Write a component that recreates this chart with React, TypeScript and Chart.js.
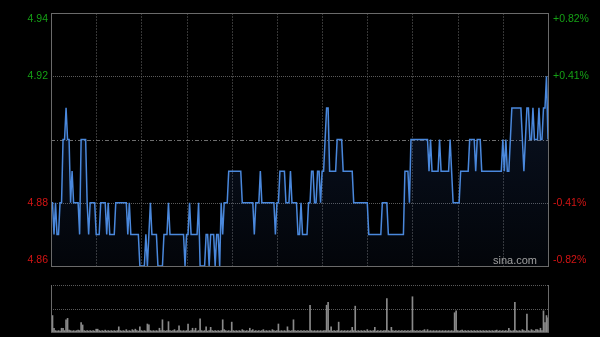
import React, { useEffect, useRef } from 'react';
import { Chart, registerables } from 'chart.js';
Chart.register(...registerables);

// Intraday prices, one per minute (HK session, 330 minutes)
const prices: number[] = [
  4.88,4.88,4.87,4.88,4.87,4.87,4.88,4.88,4.90,4.90,
  4.91,4.90,4.90,4.88,4.89,4.88,4.88,4.88,4.88,4.87,
  4.90,4.90,4.90,4.90,4.88,4.87,4.88,4.88,4.88,4.88,
  4.87,4.87,4.87,4.88,4.88,4.88,4.88,4.87,4.88,4.87,
  4.87,4.87,4.87,4.88,4.88,4.88,4.88,4.88,4.88,4.88,
  4.88,4.87,4.88,4.87,4.87,4.87,4.87,4.87,4.87,4.86,
  4.86,4.86,4.86,4.87,4.86,4.87,4.88,4.87,4.87,4.87,
  4.87,4.86,4.86,4.86,4.86,4.87,4.87,4.87,4.88,4.87,
  4.87,4.87,4.87,4.87,4.87,4.87,4.87,4.87,4.87,4.86,
  4.87,4.87,4.88,4.87,4.87,4.87,4.87,4.87,4.88,4.86,
  4.86,4.86,4.86,4.87,4.87,4.86,4.87,4.87,4.87,4.86,
  4.87,4.87,4.86,4.88,4.87,4.88,4.88,4.88,4.89,4.89,
  4.89,4.89,4.89,4.89,4.89,4.89,4.89,4.88,4.88,4.88,
  4.88,4.88,4.88,4.88,4.88,4.87,4.88,4.88,4.88,4.89,
  4.88,4.88,4.88,4.88,4.88,4.88,4.88,4.88,4.88,4.87,
  4.88,4.88,4.89,4.89,4.89,4.89,4.88,4.88,4.88,4.89,
  4.88,4.88,4.88,4.88,4.87,4.87,4.88,4.87,4.87,4.87,
  4.87,4.88,4.88,4.89,4.89,4.88,4.88,4.89,4.89,4.88,
  4.89,4.89,4.90,4.91,4.91,4.89,4.89,4.89,4.89,4.89,
  4.90,4.90,4.90,4.90,4.89,4.89,4.89,4.89,4.89,4.89,
  4.89,4.88,4.88,4.88,4.88,4.88,4.88,4.88,4.88,4.88,
  4.88,4.87,4.87,4.87,4.87,4.87,4.87,4.87,4.87,4.87,
  4.88,4.88,4.88,4.88,4.87,4.87,4.87,4.87,4.87,4.87,
  4.87,4.87,4.87,4.87,4.87,4.89,4.89,4.89,4.88,4.90,
  4.90,4.90,4.90,4.90,4.90,4.90,4.90,4.90,4.90,4.90,
  4.90,4.89,4.90,4.89,4.89,4.89,4.89,4.89,4.90,4.89,
  4.89,4.89,4.89,4.89,4.89,4.90,4.89,4.88,4.88,4.88,
  4.88,4.88,4.89,4.89,4.89,4.89,4.89,4.89,4.90,4.90,
  4.90,4.90,4.89,4.90,4.90,4.90,4.89,4.89,4.89,4.89,
  4.89,4.89,4.89,4.89,4.89,4.89,4.89,4.89,4.89,4.89,
  4.90,4.89,4.90,4.89,4.89,4.90,4.91,4.91,4.91,4.91,
  4.91,4.91,4.91,4.90,4.89,4.90,4.91,4.91,4.90,4.90,
  4.91,4.90,4.90,4.90,4.91,4.90,4.90,4.91,4.91,4.92,
  4.90,
];

// Per-minute volume (relative units, panel top = 100)
const volumes: number[] = [
  26,35,8,3,2,3,2,8,8,3,
  26,29,4,3,2,3,2,3,4,3,
  20,15,3,2,3,2,3,2,3,2,
  6,6,3,2,3,2,4,2,3,2,
  3,2,3,2,3,11,3,2,3,2,
  5,2,3,2,5,3,6,3,2,11,
  3,2,3,2,17,15,3,2,3,2,
  3,2,8,3,26,3,2,3,22,3,
  2,3,5,2,3,13,3,2,3,2,
  3,17,2,3,8,3,8,2,3,28,
  3,2,3,11,2,3,10,3,2,3,
  2,3,2,3,26,5,3,2,3,2,
  21,3,2,3,2,3,2,5,3,2,
  3,2,8,3,5,2,3,2,3,2,
  3,5,2,3,2,3,2,5,3,2,
  3,17,2,3,2,3,2,11,3,2,
  3,26,3,2,3,2,3,2,3,2,
  3,2,57,3,2,3,2,3,2,3,
  2,3,3,57,63,3,11,2,3,2,
  3,21,2,3,2,3,2,3,2,3,
  10,3,55,2,3,2,3,2,3,2,
  5,2,3,2,3,10,2,3,2,3,
  2,3,3,71,3,2,10,3,2,3,
  2,3,2,3,2,3,2,3,2,3,
  75,3,2,3,2,3,2,3,5,2,
  5,2,3,2,3,2,3,2,3,2,
  3,2,3,2,3,2,3,2,41,45,
  3,2,3,4,2,3,2,3,2,3,
  2,3,2,3,2,3,2,3,2,3,
  2,3,2,3,2,3,4,2,3,2,
  3,2,3,2,8,3,2,3,63,3,
  2,3,2,5,3,2,38,3,2,5,
  3,2,5,5,3,8,3,45,20,35,
  30,
];

const priceTicks = [4.94, 4.92, 4.90, 4.88, 4.86];
const priceLabels = ['4.94', '4.92', '', '4.88', '4.86'];
const pctLabels = ['+0.82%', '+0.41%', '', '-0.41%', '-0.82%'];
const prevClose = 4.90;
const gridMinutes = [30, 60, 90, 120, 150, 180, 210, 240, 270, 300];
const totalMinutes = 330;
const volumeMax = 100;

const GREEN = '#15a015';
const RED = '#d41414';
const FONT = '10.5px "Liberation Sans", Arial, sans-serif';

function hLine(ctx: CanvasRenderingContext2D, x1: number, x2: number, y: number, dash: number[], color: string) {
  ctx.save();
  ctx.strokeStyle = color;
  ctx.lineWidth = 1;
  ctx.setLineDash(dash);
  ctx.beginPath();
  ctx.moveTo(x1, y);
  ctx.lineTo(x2, y);
  ctx.stroke();
  ctx.restore();
}
function vLine(ctx: CanvasRenderingContext2D, x: number, y1: number, y2: number, dash: number[], color: string) {
  ctx.save();
  ctx.strokeStyle = color;
  ctx.lineWidth = 1;
  ctx.setLineDash(dash);
  ctx.beginPath();
  ctx.moveTo(x, y1);
  ctx.lineTo(x, y2);
  ctx.stroke();
  ctx.restore();
}

const mainDecor = {
  id: 'mainDecor',
  beforeDatasetsDraw(chart: any) {
    const { ctx, chartArea, scales } = chart;
    const { left, right, top, bottom } = chartArea;
    gridMinutes.forEach((m) => {
      const px = Math.round(scales.x.getPixelForValue(m)) + 0.5;
      vLine(ctx, px, top, bottom, [2, 1], '#363636');
    });
    priceTicks.forEach((v, i) => {
      if (i === 0 || i === priceTicks.length - 1) return;
      const py = Math.round(scales.y.getPixelForValue(v)) + 0.5;
      if (v === prevClose) hLine(ctx, left, right, py, [4, 2, 1, 2], '#6e6e6e');
      else hLine(ctx, left, right, py, [1, 1], '#5a5a5a');
    });
  },
  afterDraw(chart: any) {
    const { ctx, chartArea, scales } = chart;
    const { left, right, top, bottom } = chartArea;
    ctx.save();
    ctx.strokeStyle = '#6a6a6a';
    ctx.lineWidth = 1;
    ctx.strokeRect(left + 0.5, top + 0.5, right - left, bottom - top);
    ctx.font = FONT;
    ctx.textBaseline = 'middle';
    priceTicks.forEach((v, i) => {
      let py = scales.y.getPixelForValue(v);
      if (i === 0) py += 6;
      if (i === priceTicks.length - 1) py -= 6;
      const color = v > prevClose ? GREEN : RED;
      ctx.fillStyle = color;
      if (priceLabels[i]) {
        ctx.textAlign = 'right';
        ctx.fillText(priceLabels[i], left - 3, py);
      }
      if (pctLabels[i]) {
        ctx.textAlign = 'left';
        ctx.fillText(pctLabels[i], right + 5, py);
      }
    });
    ctx.fillStyle = '#a0a0a0';
    ctx.textAlign = 'right';
    ctx.font = '11px "Liberation Sans", Arial, sans-serif';
    ctx.fillText('sina.com', right - 11, bottom - 5);
    ctx.restore();
  },
};

const volDecor = {
  id: 'volDecor',
  beforeDatasetsDraw(chart: any) {
    const { ctx, chartArea, scales } = chart;
    const { left, right, top, bottom } = chartArea;
    hLine(ctx, left, right, top + 0.5, [1, 1], '#5a5a5a');
    const mid = Math.round(scales.y.getPixelForValue(volumeMax / 2)) + 0.5;
    hLine(ctx, left, right, mid, [1, 1], '#5a5a5a');
  },
  afterDraw(chart: any) {
    const { ctx, chartArea } = chart;
    const { left, right, top, bottom } = chartArea;
    vLine(ctx, left + 0.5, top, bottom, [], '#6a6a6a');
    vLine(ctx, right + 0.5, top, bottom, [], '#6a6a6a');
    hLine(ctx, left, right + 1, bottom + 0.5, [], '#555555');
  },
};

export default function App() {
  const mainRef = useRef<HTMLCanvasElement>(null);
  const volRef = useRef<HTMLCanvasElement>(null);

  useEffect(() => {
    const priceData = prices.map((p, i) => ({ x: i, y: p }));
    const volData = volumes.map((v, i) => ({ x: i, y: v }));

    const main = new Chart(mainRef.current!, {
      type: 'line',
      data: {
        datasets: [
          {
            data: priceData,
            borderColor: '#4a88dc',
            borderWidth: 1.5,
            pointRadius: 0,
            tension: 0,
            fill: 'start',
            backgroundColor: (ctx: any) => {
              const area = ctx.chart.chartArea;
              if (!area) return 'rgba(40,80,150,0.12)';
              const g = ctx.chart.ctx.createLinearGradient(0, area.top, 0, area.bottom);
              g.addColorStop(0, 'rgba(45,85,160,0.28)');
              g.addColorStop(1, 'rgba(45,85,160,0.06)');
              return g;
            },
          },
        ],
      },
      options: {
        animation: false,
        responsive: true,
        maintainAspectRatio: false,
        layout: { padding: { left: 51, right: 52, top: 13, bottom: 9 } },
        plugins: { legend: { display: false }, tooltip: { enabled: false } },
        scales: {
          x: { type: 'linear', min: 0, max: totalMinutes, display: false },
          y: { min: priceTicks[priceTicks.length - 1], max: priceTicks[0], display: false },
        },
      },
      plugins: [mainDecor],
    } as any);

    const vol = new Chart(volRef.current!, {
      type: 'bar',
      data: {
        datasets: [
          {
            data: volData,
            backgroundColor: '#8a8a8a',
            barThickness: 1,
          },
        ],
      },
      options: {
        animation: false,
        responsive: true,
        maintainAspectRatio: false,
        layout: { padding: { left: 51, right: 52, top: 10, bottom: 5 } },
        plugins: { legend: { display: false }, tooltip: { enabled: false } },
        scales: {
          x: { type: 'linear', min: 0, max: totalMinutes, display: false, offset: false },
          y: { min: 0, max: volumeMax, display: false },
        },
      },
      plugins: [volDecor],
    } as any);

    return () => {
      main.destroy();
      vol.destroy();
    };
  }, []);

  return (
    <div style={{ position: 'fixed', left: 0, top: 0, width: 600, height: 337, background: '#000' }}>
      <div style={{ position: 'absolute', left: 0, top: 0, width: 600, height: 275 }}>
        <canvas ref={mainRef} />
      </div>
      <div style={{ position: 'absolute', left: 0, top: 275, width: 600, height: 62 }}>
        <canvas ref={volRef} />
      </div>
    </div>
  );
}
